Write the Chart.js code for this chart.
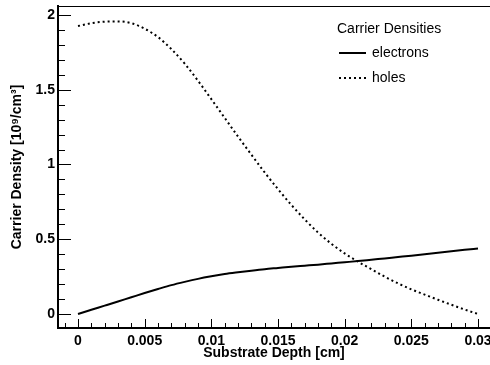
<!DOCTYPE html>
<html>

<head>
    <title>Carrier Densities</title>
    <script src="https://cdn.jsdelivr.net/npm/chart.js"></script>
    <style>
        body {
            margin: 0;
            background: #fff;
        }
    </style>
</head>

<body>
    <canvas id="myChart" width="490" height="365"></canvas>

    <script>
        // data
        const depth = [0, 0.001, 0.002, 0.003, 0.004, 0.005, 0.006, 0.007, 0.008, 0.009, 0.01,
            0.011, 0.012, 0.013, 0.014, 0.015, 0.016, 0.017, 0.018, 0.019, 0.02,
            0.021, 0.022, 0.023, 0.024, 0.025, 0.026, 0.027, 0.028, 0.029, 0.03];
        const electrons = [0, 0.028, 0.056, 0.084, 0.112, 0.14, 0.167, 0.193, 0.215, 0.235, 0.252,
            0.267, 0.279, 0.29, 0.3, 0.308, 0.316, 0.323, 0.33, 0.338, 0.346,
            0.354, 0.363, 0.372, 0.381, 0.39, 0.4, 0.409, 0.419, 0.429, 0.438];
        const holes = [1.926, 1.945, 1.955, 1.957, 1.945, 1.908, 1.852, 1.772, 1.675, 1.56, 1.437,
            1.312, 1.187, 1.066, 0.947, 0.835, 0.73, 0.633, 0.545, 0.47, 0.405,
            0.35, 0.3, 0.25, 0.205, 0.165, 0.13, 0.095, 0.062, 0.03, 0];
        const seriesNames = ['electrons', 'holes'];
        const legendTitle = 'Carrier Densities';
        const xTicks = [0, 0.005, 0.01, 0.015, 0.02, 0.025, 0.03];
        const xTickLabels = ['0', '0.005', '0.01', '0.015', '0.02', '0.025', '0.03'];
        const yTicks = [0, 0.5, 1, 1.5, 2];
        const yTickLabels = ['0', '0.5', '1', '1.5', '2'];

        const family = '"Liberation Sans", Arial, Helvetica, sans-serif';
        const boldFont = { family: family, size: 14, weight: 'bold' };

        // inward ticks, top frame line and the legend box
        const rootFrame = {
            id: 'rootFrame',
            afterDraw(chart) {
                const { ctx, chartArea: a, scales: { x, y } } = chart;
                ctx.save();
                ctx.strokeStyle = '#000';
                ctx.lineWidth = 1;
                ctx.beginPath();
                ctx.moveTo(a.left, a.top + 0.5);
                ctx.lineTo(a.right, a.top + 0.5);
                for (let k = 0; k <= 20; k++) {
                    const py = Math.round(y.getPixelForValue(k / 10)) + 0.5;
                    const len = k % 5 === 0 ? 13 : 7;
                    ctx.moveTo(a.left, py);
                    ctx.lineTo(a.left + len, py);
                }
                for (let k = -1; k <= 30; k++) {
                    const px = Math.round(x.getPixelForValue(k / 1000)) + 0.5;
                    if (px < a.left || px > a.right) continue;
                    const len = k % 5 === 0 ? 9 : 5;
                    ctx.moveTo(px, a.bottom);
                    ctx.lineTo(px, a.bottom - len);
                }
                ctx.stroke();

                // legend
                ctx.fillStyle = '#000';
                ctx.font = '14px ' + family;
                ctx.textBaseline = 'middle';
                ctx.fillText(legendTitle, 337, 29);
                chart.data.datasets.forEach((ds, i) => {
                    const ly = 53 + i * 25;
                    ctx.beginPath();
                    ctx.lineWidth = ds.borderWidth;
                    ctx.setLineDash(ds.borderDash || []);
                    ctx.moveTo(339, ly);
                    ctx.lineTo(366, ly);
                    ctx.stroke();
                    ctx.setLineDash([]);
                    ctx.fillText(ds.label, 372, ly);
                });
                ctx.restore();
            }
        };

        new Chart(document.getElementById('myChart'), {
            type: 'line',
            data: {
                datasets: [
                    {
                        label: seriesNames[0],
                        data: depth.map((d, i) => ({ x: d, y: electrons[i] })),
                        borderColor: '#000',
                        borderWidth: 2,
                        pointRadius: 0,
                        cubicInterpolationMode: 'monotone',
                        fill: false,
                    },
                    {
                        label: seriesNames[1],
                        data: depth.map((d, i) => ({ x: d, y: holes[i] })),
                        borderColor: '#000',
                        borderWidth: 2,
                        borderDash: [2, 3],
                        pointRadius: 0,
                        cubicInterpolationMode: 'monotone',
                        fill: false,
                    },
                ],
            },
            options: {
                responsive: false,
                animation: false,
                layout: { padding: { top: 6, right: 0, bottom: 0, left: 0 } },
                scales: {
                    x: {
                        type: 'linear',
                        min: -0.0015,
                        max: 0.0309,
                        afterBuildTicks: s => { s.ticks = xTicks.map(v => ({ value: v })); },
                        afterFit: s => { s.height = 37; s.paddingLeft = 0; s.paddingRight = 0; },
                        ticks: {
                            callback: v => xTickLabels[xTicks.indexOf(v)],
                            font: boldFont,
                            color: '#000',
                            padding: 5,
                            maxRotation: 0,
                            autoSkip: false,
                        },
                        grid: { display: false, drawTicks: false, tickLength: 0 },
                        border: { display: true, color: '#000', width: 2 },
                        title: {
                            display: true,
                            text: 'Substrate Depth [cm]',
                            font: boldFont,
                            color: '#000',
                            padding: { top: 0, bottom: 3 },
                        },
                    },
                    y: {
                        type: 'linear',
                        min: -0.0936,
                        max: 2.06,
                        afterBuildTicks: s => { s.ticks = yTicks.map(v => ({ value: v })); },
                        afterFit: s => { s.width = 58; s.paddingTop = 0; s.paddingBottom = 0; },
                        ticks: {
                            callback: v => yTickLabels[yTicks.indexOf(v)],
                            font: boldFont,
                            color: '#000',
                            padding: 3,
                            autoSkip: false,
                        },
                        grid: { display: false, drawTicks: false, tickLength: 0 },
                        border: { display: true, color: '#000', width: 2 },
                        title: {
                            display: true,
                            text: 'Carrier Density [10⁹/cm³]',
                            font: boldFont,
                            color: '#000',
                            padding: { top: 9, bottom: 0 },
                        },
                    },
                },
                plugins: {
                    legend: { display: false },
                    tooltip: { enabled: false },
                },
            },
            plugins: [rootFrame],
        });
    </script>
</body>

</html>
